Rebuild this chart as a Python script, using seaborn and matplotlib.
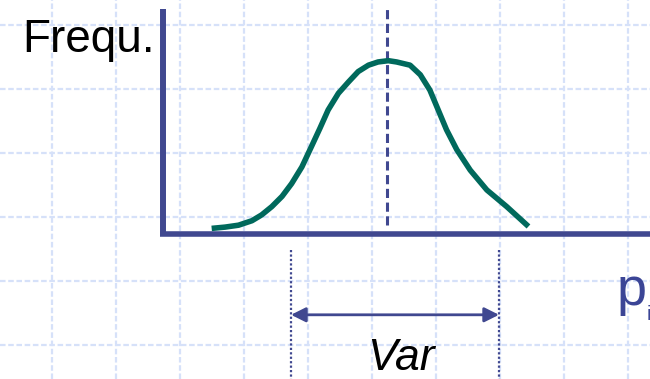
import numpy as np
import pandas as pd
import matplotlib
matplotlib.use("Agg")
import matplotlib.pyplot as plt
import seaborn as sns

# Distribution curve of p_i (x in grid units, y = frequency)
p_values = [0.76, 0.97, 1.18, 1.39, 1.54, 1.70, 1.86, 2.01, 2.17, 2.32, 2.45,
            2.58, 2.74, 2.90, 3.05, 3.21, 3.36, 3.52, 3.65, 3.86, 4.02, 4.17,
            4.30, 4.43, 4.59, 4.80, 5.06, 5.37, 5.71]
frequency = [0.08, 0.10, 0.13, 0.20, 0.29, 0.42, 0.58, 0.78, 1.04, 1.36, 1.64,
             1.93, 2.19, 2.37, 2.53, 2.63, 2.68, 2.70, 2.68, 2.63, 2.48, 2.24,
             1.93, 1.62, 1.31, 0.99, 0.68, 0.42, 0.11]

mean_p = 3.5
var_bounds = [2.0, 5.25]

y_label = "Frequ."
x_label = "p"
x_sub = "i"
var_label = "Var"

AXIS_BLUE = "#404890"
CURVE_TEAL = "#00695c"
GRID_BLUE = "#d6e1f9"

sns.set_theme(style="white")
plt.rcParams["font.family"] = ["Liberation Sans", "DejaVu Sans"]

fig = plt.figure(figsize=(6.5, 3.79), dpi=100)
ax = fig.add_axes([0, 0, 1, 1])
ax.set_xlim(-2.547, 7.609)
ax.set_ylim(-2.273, 3.648)

# background grid
ax.set_xticks(np.arange(-1.73, 7.6, 1.0))
ax.set_yticks(np.arange(-1.74, 3.4, 1.0))
ax.tick_params(length=0, labelbottom=False, labelleft=False)
ax.grid(True, color=GRID_BLUE, lw=1.6, linestyle=(0, (2.5, 1.2)))
ax.set_axisbelow(True)
for s in ax.spines.values():
    s.set_visible(False)

# axes of the diagram
ax.plot([0, 0], [-0.04, 3.51], color=AXIS_BLUE, lw=4.3, solid_capstyle="butt")
ax.plot([-0.04, 7.7], [0, 0], color=AXIS_BLUE, lw=4.0, solid_capstyle="butt")

# mean marker
ax.plot([mean_p, mean_p], [0.13, 3.5], color=AXIS_BLUE, lw=2.2,
        linestyle=(0, (3.0, 1.5)))

# the distribution curve
df = pd.DataFrame({"p": p_values, "freq": frequency})
sns.lineplot(data=df, x="p", y="freq", sort=False, ax=ax, color=CURVE_TEAL,
             lw=4.0, solid_joinstyle="round", solid_capstyle="butt")
ax.set_xlabel("")
ax.set_ylabel("")

# variance bounds and arrow
for xb in var_bounds:
    ax.plot([xb, xb], [-0.26, -2.4], color=AXIS_BLUE, lw=1.6,
            linestyle=(0, (1, 1)))
ax.annotate("", xy=(var_bounds[0], -1.27), xytext=(var_bounds[1], -1.27),
            arrowprops=dict(arrowstyle="<|-|>", color=AXIS_BLUE, lw=2.0,
                            mutation_scale=22, shrinkA=0, shrinkB=0))

# labels
ax.text(-2.20, 2.836, y_label, fontsize=33, color="black",
        ha="left", va="baseline")
ax.text(7.09, -1.12, x_label, fontsize=39, color="#3b4596",
        ha="left", va="baseline")
ax.text(7.55, -1.35, x_sub, fontsize=15, color="#3b4596",
        ha="left", va="baseline")
ax.text(3.72, -2.125, var_label, fontsize=32, color="black", style="italic",
        ha="center", va="baseline")

fig.savefig("out.png", dpi=100)
